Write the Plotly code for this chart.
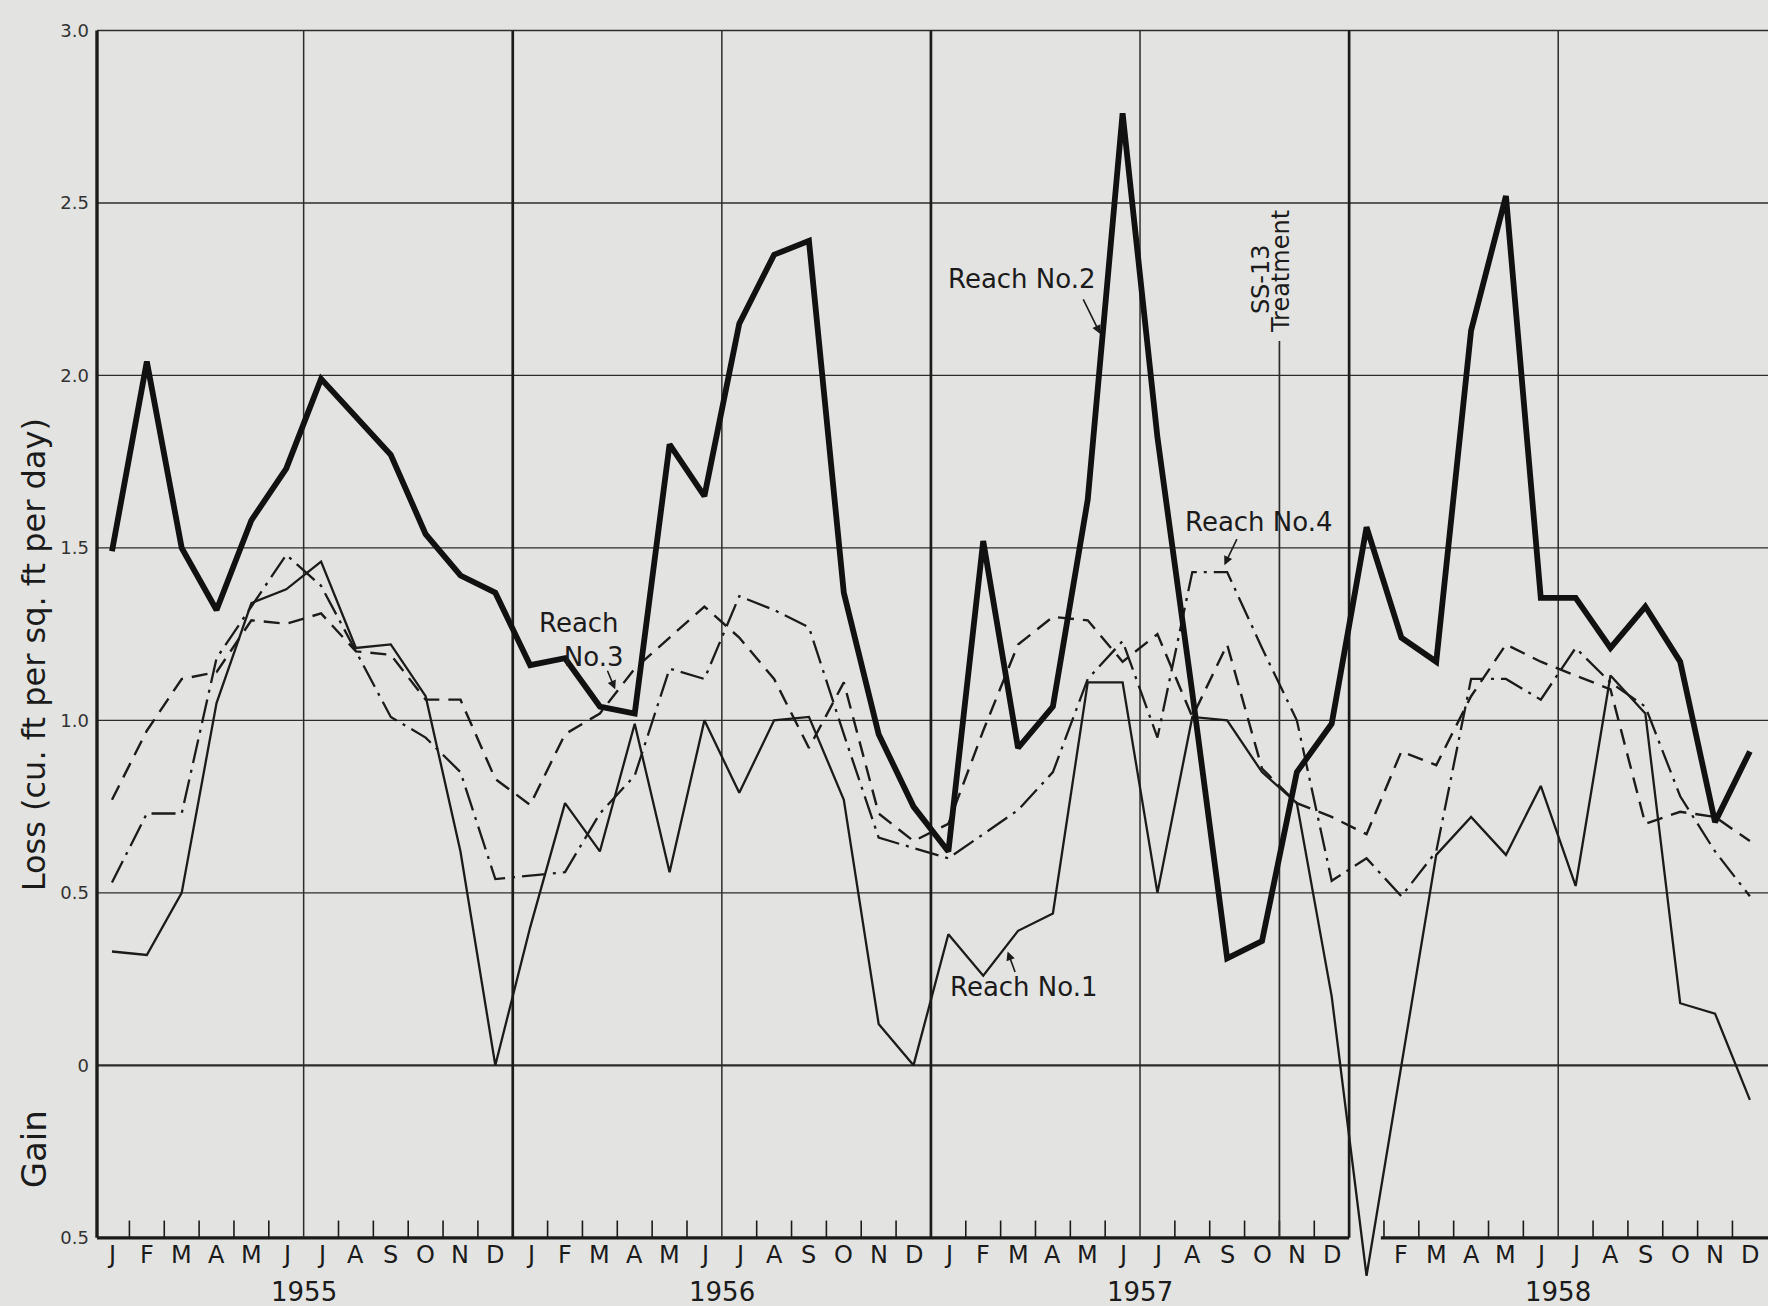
import plotly.graph_objects as go

# ---------------- data ----------------
month_letters = ["J", "F", "M", "A", "M", "J", "J", "A", "S", "O", "N", "D"]
years = ["1955", "1956", "1957", "1958"]

# Loss (+) / gain (-) in cu. ft per sq. ft per day, monthly Jan 1955 - Dec 1958
reach1 = [0.33, 0.32, 0.50, 1.05, 1.34, 1.38, 1.46, 1.21, 1.22, 1.07, 0.62, 0.00,
          0.40, 0.76, 0.62, 0.99, 0.56, 1.00, 0.79, 1.00, 1.01, 0.77, 0.12, 0.00,
          0.38, 0.26, 0.39, 0.44, 1.11, 1.11, 0.50, 1.01, 1.00, 0.85, 0.76, 0.20,
          -0.61, 0.00, 0.61, 0.72, 0.61, 0.81, 0.52, 1.13, 1.02, 0.18, 0.15, -0.10]
reach2 = [1.49, 2.04, 1.50, 1.32, 1.58, 1.73, 1.99, 1.88, 1.77, 1.54, 1.42, 1.37,
          1.16, 1.18, 1.04, 1.02, 1.80, 1.65, 2.15, 2.35, 2.39, 1.37, 0.96, 0.75,
          0.62, 1.52, 0.92, 1.04, 1.64, 2.76, 1.82, 1.08, 0.31, 0.36, 0.85, 0.99,
          1.56, 1.24, 1.17, 2.13, 2.52, 1.355, 1.355, 1.21, 1.33, 1.17, 0.705, 0.91]
reach3 = [0.77, 0.97, 1.12, 1.14, 1.29, 1.28, 1.31, 1.20, 1.19, 1.06, 1.06, 0.83,
          0.755, 0.96, 1.02, 1.15, 1.24, 1.33, 1.24, 1.12, 0.92, 1.11, 0.73, 0.65,
          0.70, 0.97, 1.22, 1.30, 1.29, 1.17, 1.25, 1.01, 1.22, 0.86, 0.76, 0.72,
          0.67, 0.91, 0.87, 1.07, 1.22, 1.17, 1.13, 1.09, 0.70, 0.735, 0.72, 0.65]
reach4 = [0.53, 0.73, 0.73, 1.18, 1.33, 1.48, 1.39, 1.20, 1.01, 0.95, 0.85, 0.54,
          0.55, 0.56, 0.73, 0.84, 1.15, 1.12, 1.36, 1.32, 1.27, 0.96, 0.66, 0.63,
          0.60, 0.67, 0.74, 0.85, 1.12, 1.23, 0.95, 1.43, 1.43, 1.21, 1.00, 0.535,
          0.60, 0.49, 0.62, 1.12, 1.12, 1.06, 1.21, 1.11, 1.04, 0.78, 0.62, 0.49]

y_tick_vals = [-0.5, 0, 0.5, 1.0, 1.5, 2.0, 2.5, 3.0]
y_tick_text = ["0.5", "0", "0.5", "1.0", "1.5", "2.0", "2.5", "3.0"]

treatment_month = 33.5   # boundary Oct/Nov 1957 (SS-13 treatment)

# ---------------- figure ----------------
INK = "#1b1b1b"
GRID = "#2c2c2c"
PAPER = "#e3e3e1"
FONT = "DejaVu Sans"

n = len(reach1)
x = list(range(n))
XMIN, XMAX = -0.43, 47.52
YMIN, YMAX = -0.66, 3.01

fig = go.Figure()

styles = [
    (reach3, dict(color=INK, width=2.4, dash="16px,9px")),
    (reach4, dict(color=INK, width=2.3, dash="24px,7px,3px,7px")),
    (reach1, dict(color=INK, width=2.3)),
    (reach2, dict(color="#111111", width=5.8)),
]
names = ["Reach No.3", "Reach No.4", "Reach No.1", "Reach No.2"]
for (vals, ln), nm in zip(styles, names):
    fig.add_trace(go.Scatter(x=x, y=vals, mode="lines", name=nm, line=ln,
                             showlegend=False, hoverinfo="skip"))

shapes = []
# horizontal grid lines
for v in y_tick_vals[1:]:
    w = 2.4 if v == 0 else 1.4
    shapes.append(dict(type="line", xref="paper", yref="y", x0=0, x1=1, y0=v, y1=v,
                       line=dict(color=GRID, width=w), layer="below"))
# bottom axis line (with the draftsman's gap at Jan 1958)
shapes.append(dict(type="line", xref="x", yref="y", x0=XMIN, x1=35.5, y0=-0.5, y1=-0.5,
                   line=dict(color=INK, width=3.2), layer="below"))
shapes.append(dict(type="line", xref="x", yref="y", x0=36.41, x1=XMAX, y0=-0.5, y1=-0.5,
                   line=dict(color=INK, width=3.2), layer="below"))
# left axis
shapes.append(dict(type="line", xref="paper", yref="y", x0=0, x1=0, y0=-0.5, y1=3.0,
                   line=dict(color=INK, width=3.4), layer="below"))
# vertical lines: year boundaries (heavy) and mid-year (light)
grid_x = []
for k in range(len(years)):
    mid = 12 * k + 5.5
    grid_x.append(mid)
    shapes.append(dict(type="line", xref="x", yref="y", x0=mid, x1=mid, y0=-0.5, y1=3.0,
                       line=dict(color=GRID, width=1.5), layer="below"))
    if k < len(years) - 1:
        b = 12 * k + 11.5
        grid_x.append(b)
        shapes.append(dict(type="line", xref="x", yref="y", x0=b, x1=b, y0=-0.5, y1=3.0,
                           line=dict(color=INK, width=2.7), layer="below"))
# month boundary ticks
for i in range(n - 1):
    b = i + 0.5
    if b in grid_x:
        continue
    shapes.append(dict(type="line", xref="x", yref="y", x0=b, x1=b, y0=-0.5, y1=-0.45,
                       line=dict(color=INK, width=1.6), layer="below"))
# SS-13 treatment line
shapes.append(dict(type="line", xref="x", yref="y", x0=treatment_month, x1=treatment_month,
                   y0=-0.5, y1=2.10, line=dict(color=GRID, width=1.7), layer="below"))

ann = []
# month letters
for i in range(n):
    if i == 36:   # hidden under the Reach No.1 dip in the original
        continue
    ann.append(dict(x=i, y=-0.5, xref="x", yref="y", text=month_letters[i % 12],
                    showarrow=False, yanchor="top", yshift=-1,
                    font=dict(family=FONT, size=24, color=INK)))
# years
for k, yr in enumerate(years):
    ann.append(dict(x=12 * k + 5.5, y=-0.5, xref="x", yref="y", text=yr,
                    showarrow=False, yanchor="top", yshift=-37,
                    font=dict(family=FONT, size=26, color=INK)))
# axis titles
ann.append(dict(x=-0.038, y=1.19, xref="paper", yref="y", xanchor="center",
                text="Loss (cu. ft per sq. ft per day)", textangle=-90, showarrow=False,
                font=dict(family=FONT, size=32, color=INK)))
ann.append(dict(x=-0.038, y=-0.245, xref="paper", yref="y", xanchor="center", text="Gain",
                textangle=-90, showarrow=False, font=dict(family=FONT, size=34, color=INK)))

lab_font = dict(family=FONT, size=26, color=INK)
arrow = dict(xref="x", yref="y", axref="x", ayref="y", text="", showarrow=True,
             arrowhead=2, arrowsize=1.1, arrowwidth=1.6, arrowcolor=INK)
# series labels
ann.append(dict(x=26.1, y=2.28, xref="x", yref="y", text="Reach No.2",
                showarrow=False, font=lab_font))
ann.append(dict(x=28.36, y=2.12, ax=27.85, ay=2.225, **arrow))
ann.append(dict(x=32.9, y=1.575, xref="x", yref="y", text="Reach No.4",
                showarrow=False, font=lab_font))
ann.append(dict(x=31.92, y=1.45, ax=32.3, ay=1.53, **arrow))
ann.append(dict(x=13.47, y=1.232, xref="x", yref="y",
                text="Reach<br>&nbsp;&nbsp;&nbsp;No.3", align="left",
                showarrow=False, font=lab_font))
ann.append(dict(x=14.44, y=1.09, ax=14.2, ay=1.148, **arrow))
ann.append(dict(x=26.17, y=0.226, xref="x", yref="y", text="Reach No.1",
                showarrow=False, font=lab_font))
ann.append(dict(x=25.7, y=0.33, ax=25.93, ay=0.266, **arrow))
# SS-13 treatment note
ann.append(dict(x=32.98, y=2.28, xref="x", yref="y", text="SS-13", textangle=-90,
                showarrow=False, font=dict(family=FONT, size=24, color=INK)))
ann.append(dict(x=33.55, y=2.30, xref="x", yref="y", text="Treatment", textangle=-90,
                showarrow=False, font=dict(family=FONT, size=24, color=INK)))

fig.update_layout(
    width=1768, height=1306,
    margin=dict(l=97, r=0, t=27, b=13),
    paper_bgcolor=PAPER, plot_bgcolor=PAPER,
    shapes=shapes, annotations=ann,
    xaxis=dict(range=[XMIN, XMAX], showgrid=False, zeroline=False, showline=False,
               showticklabels=False, ticks=""),
    yaxis=dict(range=[YMIN, YMAX], showgrid=False, zeroline=False, showline=False,
               tickmode="array", tickvals=y_tick_vals, ticktext=y_tick_text,
               ticks="", ticklabelstandoff=7,
               tickfont=dict(family=FONT, size=18, color="#333333")),
)

fig.write_html(
    "out.html",
    config={"displayModeBar": False},
    post_script="document.body.style.margin='0px';"
                "document.body.style.overflow='hidden';"
                "document.body.style.background='" + PAPER + "';",
)
